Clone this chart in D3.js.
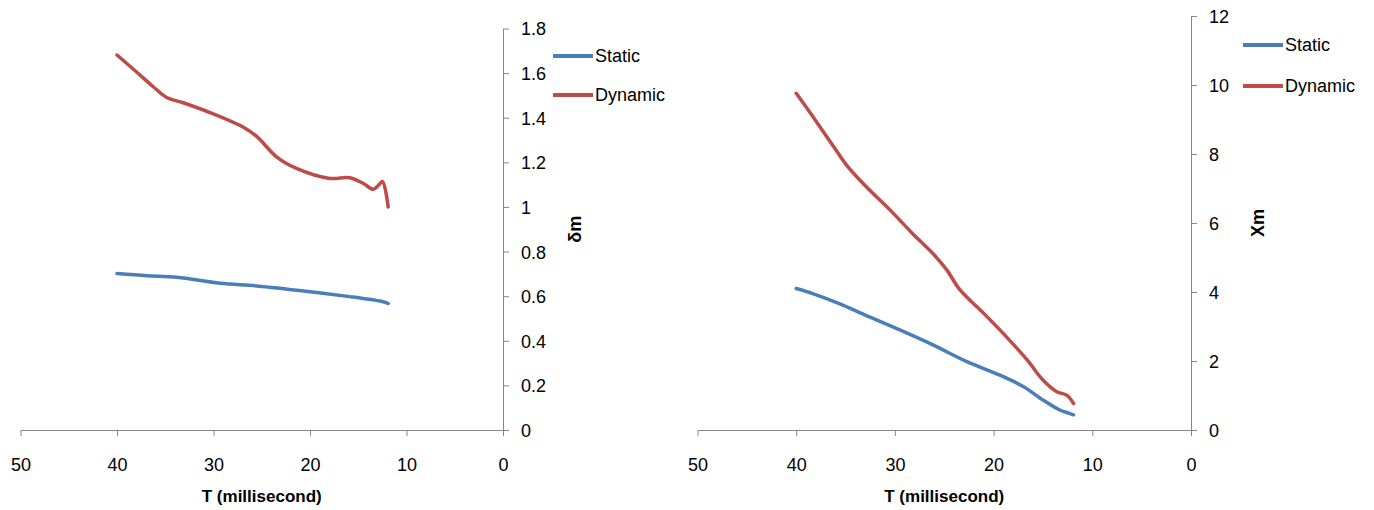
<!DOCTYPE html>
<html>
<head>
<meta charset="utf-8">
<script src="https://cdn.jsdelivr.net/npm/d3@7"></script>
<style>
  body { margin: 0; background: #fff; }
  svg { display: block; font-family: "Liberation Sans", Arial, sans-serif; }
</style>
</head>
<body>
<svg width="1374" height="510"></svg>
<script>
// left chart: delta m vs T
const leftStaticT   = [40, 36.9, 33.8, 29.3, 25.5, 20, 15.9, 14.5, 12.4, 11.9];
const leftStaticV   = [0.702, 0.692, 0.685, 0.658, 0.646, 0.620, 0.598, 0.590, 0.575, 0.567];
const leftDynamicT  = [40, 38, 36.25, 34.86, 33.14, 30.37, 26.9, 25.5, 23.47, 21.4, 17.95, 15.9, 14.5, 13.46, 12.95, 12.5, 11.9];
const leftDynamicV  = [1.681, 1.606, 1.539, 1.491, 1.467, 1.423, 1.357, 1.315, 1.225, 1.173, 1.128, 1.131, 1.106, 1.079, 1.095, 1.114, 1.0];

// right chart: Xm vs T
const rightStaticT  = [40, 38.4, 35.7, 33, 29.5, 26.1, 22.7, 19.35, 17, 15, 13.3, 12.5, 11.9];
const rightStaticV  = [4.10, 3.96, 3.67, 3.33, 2.90, 2.46, 1.98, 1.59, 1.26, 0.87, 0.58, 0.50, 0.44];
const rightDynamicT = [40, 38.3, 36.2, 34.9, 32.9, 30.5, 28.3, 26.1, 24.75, 23.4, 21, 18.7, 16.6, 15, 13.6, 12.6, 11.9];
const rightDynamicV = [9.76, 9.08, 8.21, 7.68, 7.05, 6.38, 5.72, 5.10, 4.64, 4.06, 3.38, 2.70, 2.03, 1.45, 1.11, 1.01, 0.77];

const xTicks = [50, 40, 30, 20, 10, 0];
const leftYTicks = [0, 0.2, 0.4, 0.6, 0.8, 1, 1.2, 1.4, 1.6, 1.8];
const rightYTicks = [0, 2, 4, 6, 8, 10, 12];
const seriesNames = ["Static", "Dynamic"];
const colors = ["#4a7ebb", "#be4b48"];

const svg = d3.select("svg");

const drawChart = (c) => {
    const x = d3.scaleLinear().domain([50, 0]).range([c.x0, c.x1]);
    const y = d3.scaleLinear().domain([0, c.yMax]).range([430, c.yTop]);
    const g = svg.append("g");

    const axisX = d3.axisBottom(x).tickValues(xTicks).tickSize(6).tickSizeOuter(0).tickPadding(22);
    const gx = g.append("g").attr("transform", "translate(0,430)").call(axisX);
    const axisY = d3.axisRight(y).tickValues(c.yTicks).tickSize(6).tickSizeOuter(0).tickPadding(12)
        .tickFormat(d => String(+d.toFixed(1)));
    const gy = g.append("g").attr("transform", "translate(" + c.x1 + ",0)").call(axisY);

    [gx, gy].forEach(a => {
        a.selectAll("path, line").attr("stroke", "#868686");
        a.selectAll("text").attr("font-size", 18).attr("fill", "#000").style("font-family", "Liberation Sans, Arial, sans-serif");
    });
    gy.selectAll("text").attr("dy", "0.36em");

    const line = d3.line().x(d => x(d[0])).y(d => y(d[1])).curve(d3.curveCatmullRom.alpha(0.5));
    c.series.forEach((s, i) => {
        g.append("path").datum(d3.zip(s[0], s[1]))
            .attr("d", line).attr("fill", "none")
            .attr("stroke", colors[i]).attr("stroke-width", 3.5)
            .attr("stroke-linecap", "round").attr("stroke-linejoin", "round");
    });

    // axis titles
    g.append("text").attr("x", (c.x0 + c.x1) / 2).attr("y", 502)
        .attr("text-anchor", "middle").attr("font-weight", "bold").attr("font-size", 17)
        .text("T (millisecond)");
    g.append("text").attr("transform", "translate(" + c.titleX + "," + (430 + c.yTop) / 2 + ") rotate(-90)")
        .attr("text-anchor", "middle").attr("dy", "0.35em").attr("font-weight", "bold").attr("font-size", 18)
        .text(c.yTitle);

    // legend
    seriesNames.forEach((n, i) => {
        const ly = c.legY[i];
        g.append("line").attr("x1", c.legX).attr("x2", c.legX + 40).attr("y1", ly).attr("y2", ly)
            .attr("stroke", colors[i]).attr("stroke-width", 4);
        g.append("text").attr("x", c.legX + 42).attr("y", ly).attr("dy", "0.36em")
            .attr("font-size", 18).text(n);
    });
};

drawChart({
    x0: 20.5, x1: 503, yTop: 28.5, yMax: 1.8, yTicks: leftYTicks,
    series: [[leftStaticT, leftStaticV], [leftDynamicT, leftDynamicV]],
    yTitle: "δm", titleX: 575, legX: 553, legY: [56, 95]
});
drawChart({
    x0: 697.5, x1: 1191, yTop: 16, yMax: 12, yTicks: rightYTicks,
    series: [[rightStaticT, rightStaticV], [rightDynamicT, rightDynamicV]],
    yTitle: "Xm", titleX: 1258, legX: 1243, legY: [45, 86]
});
</script>
</body>
</html>
